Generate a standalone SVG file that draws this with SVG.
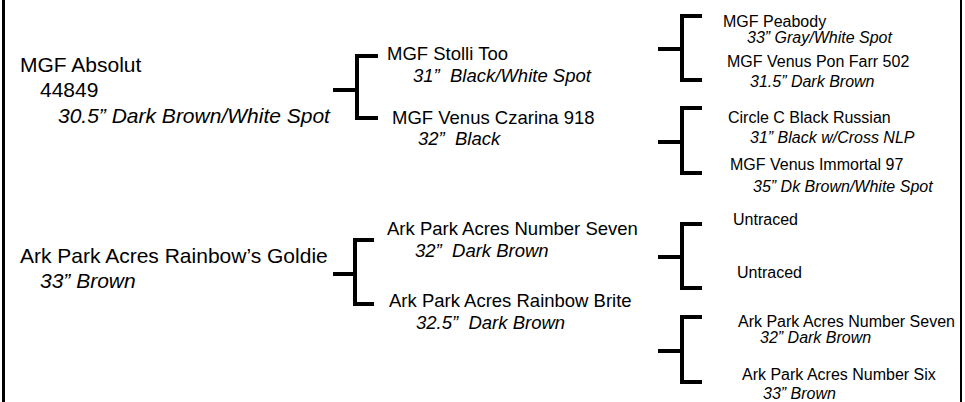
<svg xmlns="http://www.w3.org/2000/svg" width="965" height="402" viewBox="0 0 965 402">
<style>
text{font-family:"Liberation Sans",Arial,sans-serif;fill:#000;white-space:pre}
.g1{font-size:21px}
.g2{font-size:18.5px}
.g3{font-size:16px}
.i{font-style:italic}
.br{fill:none;stroke:#000;stroke-width:4;stroke-linejoin:miter;stroke-linecap:butt}
</style>
<rect x="0" y="0" width="965" height="402" fill="#fff"/>
<line x1="3.5" y1="0" x2="3.5" y2="402" stroke="#000" stroke-width="3"/>
<line x1="961" y1="0" x2="961" y2="402" stroke="#000" stroke-width="2"/>
<g id="connectors">
<path class="br" d="M378,56 H357 V118 H378 M333,90 H357"/>
<path class="br" d="M374,240 H355 V304 H374 M333,274 H355"/>
<path class="br" d="M702,16 H682 V80 H702 M658,49 H682"/>
<path class="br" d="M702,108 H682 V173 H702 M658,142 H682"/>
<path class="br" d="M702,224 H682 V288 H702 M658,257 H682"/>
<path class="br" d="M702,317 H682 V382 H702 M658,351 H682"/>
</g>
<g id="n-absolut">
<text class="g1" x="20" y="72">MGF Absolut</text>
<text class="g1" x="40" y="97">44849</text>
<text class="g1 i" x="58" y="123">30.5” Dark Brown/White Spot</text>
</g>
<g id="n-stolli">
<text class="g2" x="387" y="60">MGF Stolli Too</text>
<text class="g2 i" x="413" y="82">31”  Black/White Spot</text>
</g>
<g id="n-czarina">
<text class="g2" x="392" y="124">MGF Venus Czarina 918</text>
<text class="g2 i" x="418" y="145">32”  Black</text>
</g>
<g id="n-peabody">
<text class="g3" x="723" y="27">MGF Peabody</text>
<text class="g3 i" x="747" y="43">33” Gray/White Spot</text>
</g>
<g id="n-ponfarr">
<text class="g3" x="727" y="67">MGF Venus Pon Farr 502</text>
<text class="g3 i" x="750" y="87">31.5” Dark Brown</text>
</g>
<g id="n-russian">
<text class="g3" x="728" y="123">Circle C Black Russian</text>
<text class="g3 i" x="750" y="143">31” Black w/Cross NLP</text>
</g>
<g id="n-immortal">
<text class="g3" x="730" y="170">MGF Venus Immortal 97</text>
<text class="g3 i" x="753" y="192">35” Dk Brown/White Spot</text>
</g>
<g id="n-goldie">
<text class="g1" x="20" y="263">Ark Park Acres Rainbow’s Goldie</text>
<text class="g1 i" x="40" y="288">33” Brown</text>
</g>
<g id="n-seven">
<text class="g2" x="387" y="235">Ark Park Acres Number Seven</text>
<text class="g2 i" x="415" y="257">32”  Dark Brown</text>
</g>
<g id="n-brite">
<text class="g2" x="389" y="307">Ark Park Acres Rainbow Brite</text>
<text class="g2 i" x="416" y="329">32.5”  Dark Brown</text>
</g>
<g id="n-untraced1">
<text class="g3" x="733" y="225">Untraced</text>
</g>
<g id="n-untraced2">
<text class="g3" x="737" y="278">Untraced</text>
</g>
<g id="n-seven2">
<text class="g3" x="738" y="327">Ark Park Acres Number Seven</text>
<text class="g3 i" x="760" y="343">32” Dark Brown</text>
</g>
<g id="n-six">
<text class="g3" x="742" y="380">Ark Park Acres Number Six</text>
<text class="g3 i" x="763" y="399">33” Brown</text>
</g>
</svg>
